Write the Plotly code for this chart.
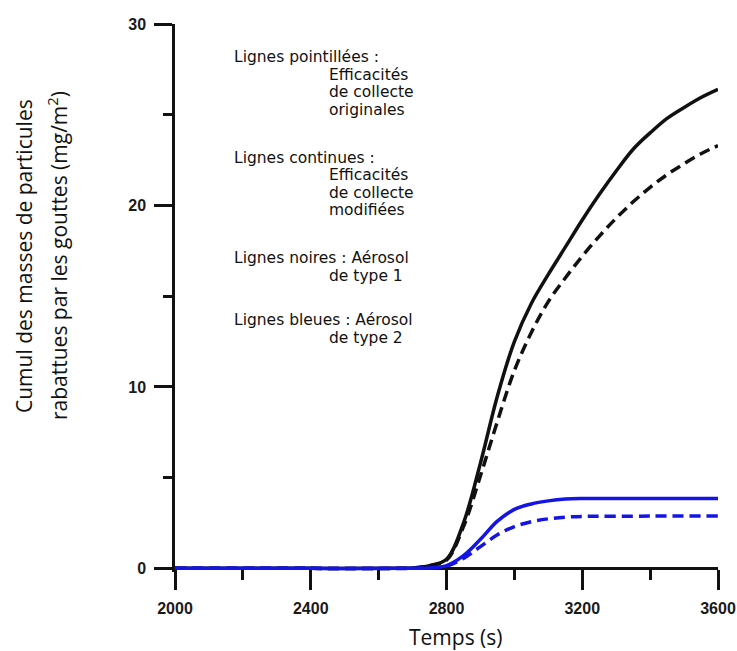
import plotly.graph_objects as go

# ---- data ----
t_black = [2000, 2400, 2650, 2700, 2750, 2800, 2850, 2900, 2950, 3000, 3050, 3100, 3150, 3200, 3250, 3300, 3350, 3400, 3450, 3500, 3550, 3600]
black_solid = [0, 0, 0, 0.02, 0.15, 0.5, 2.5, 5.8, 9.5, 12.5, 14.6, 16.2, 17.7, 19.2, 20.6, 21.9, 23.1, 24.0, 24.8, 25.4, 25.95, 26.4]
black_dashed = [0, 0, 0, 0.02, 0.15, 0.45, 2.3, 5.1, 8.1, 10.9, 13.0, 14.7, 16.0, 17.2, 18.3, 19.3, 20.2, 21.0, 21.7, 22.3, 22.85, 23.3]

t_blue = [2000, 2400, 2700, 2750, 2800, 2850, 2900, 2950, 3000, 3050, 3100, 3150, 3200, 3400, 3600]
blue_solid = [0, 0, 0, 0.02, 0.15, 0.7, 1.6, 2.6, 3.25, 3.55, 3.72, 3.82, 3.85, 3.85, 3.85]
blue_dashed = [0, 0, 0, 0.02, 0.12, 0.55, 1.2, 1.85, 2.3, 2.57, 2.73, 2.82, 2.86, 2.88, 2.88]

x_ticks = [2000, 2400, 2800, 3200, 3600]
y_ticks = [0, 10, 20, 30]

note_lines = [
    "Lignes pointillées :", "Efficacités", "de collecte", "originales",
    "Lignes continues :", "Efficacités", "de collecte", "modifiées",
    "Lignes noires : Aérosol", "de type 1",
    "Lignes bleues : Aérosol", "de type 2",
]
note_indent = [False, True, True, True, False, True, True, True, False, True, False, True]
note_ypix = [57, 75, 92, 110, 158, 175, 193, 210, 258, 276, 320, 338]

y_title_lines = ["Cumul des masses de particules", "rabattues par les gouttes (mg/m<sup>2</sup>)"]
x_title = "Temps (s)"

# ---- layout geometry ----
W, H = 737, 651
ML, MR, MT, MB = 175, 19, 24, 79
PW, PH = W - ML - MR, H - MT - MB
YMIN, YMAX = -0.2, 30

def px_x(p):
    return (p - ML) / PW

def px_y(p):
    return (H - MB - p) / PH

BLACK = "#111111"
BLUE = "#1414e6"

fig = go.Figure()
fig.add_trace(go.Scatter(x=t_black, y=black_dashed, mode="lines",
                         line=dict(color=BLACK, width=3.5, dash="11px,6px", shape="spline", smoothing=1.0)))
fig.add_trace(go.Scatter(x=t_black, y=black_solid, mode="lines",
                         line=dict(color=BLACK, width=3.5, shape="spline", smoothing=1.0)))
fig.add_trace(go.Scatter(x=t_blue, y=blue_dashed, mode="lines",
                         line=dict(color=BLUE, width=3.5, dash="11px,6px", shape="spline", smoothing=1.0)))
fig.add_trace(go.Scatter(x=t_blue, y=blue_solid, mode="lines",
                         line=dict(color=BLUE, width=3.5, shape="spline", smoothing=1.0)))

tickfont = dict(family="Liberation Sans, Arial, sans-serif", size=16, color="#1a1a1a", weight="bold")

fig.update_layout(
    width=W, height=H,
    margin=dict(l=ML, r=MR, t=MT, b=MB, pad=0, autoexpand=False),
    paper_bgcolor="white", plot_bgcolor="white",
    showlegend=False,
    xaxis=dict(
        range=[2000, 3600], tickvals=x_ticks, ticktext=[str(v) for v in x_ticks],
        anchor="free", position=(0 - YMIN) / (YMAX - YMIN), automargin=False,
        showline=True, linecolor=BLACK, linewidth=2.5, layer="below traces",
        ticks="outside", ticklen=20, tickwidth=2.5, tickcolor=BLACK,
        minor=dict(dtick=200, tick0=2000, ticks="outside", ticklen=10, tickwidth=2.5, tickcolor=BLACK),
        showgrid=False, zeroline=False, tickfont=tickfont, ticklabelstandoff=5,
    ),
    yaxis=dict(
        range=[YMIN, YMAX], tickvals=y_ticks, ticktext=[str(v) for v in y_ticks], automargin=False,
        showline=True, linecolor=BLACK, linewidth=2.5, layer="below traces",
        ticks="outside", ticklen=18, tickwidth=2.5, tickcolor=BLACK,
        minor=dict(dtick=5, tick0=0, ticks="outside", ticklen=9, tickwidth=2.5, tickcolor=BLACK),
        showgrid=False, zeroline=False, tickfont=tickfont, ticklabelstandoff=5,
    ),
)

annotations = []
for txt, ind, yp in zip(note_lines, note_indent, note_ypix):
    annotations.append(dict(
        text=txt, xref="paper", yref="paper",
        x=px_x(327 if ind else 232), y=px_y(yp),
        xanchor="left", yanchor="middle", showarrow=False,
        font=dict(family="DejaVu Sans, Verdana, sans-serif", size=15.5, color="#111111"),
    ))

for txt, xc in zip(y_title_lines, [24, 57]):
    annotations.append(dict(
        text=txt, xref="paper", yref="paper", x=px_x(xc), y=px_y(256),
        xanchor="center", yanchor="middle", textangle=-90, showarrow=False,
        font=dict(family="Open Sans, sans-serif", size=21, color="#111111"),
    ))

annotations.append(dict(
    text=x_title, xref="paper", yref="paper", x=px_x(456), y=px_y(637),
    xanchor="center", yanchor="middle", showarrow=False,
    font=dict(family="Open Sans, sans-serif", size=21, color="#111111"),
))

fig.update_layout(annotations=annotations)
fig.write_html("out.html", config={"displayModeBar": False},
               post_script="document.body.style.margin='0';document.body.style.overflow='hidden';")
